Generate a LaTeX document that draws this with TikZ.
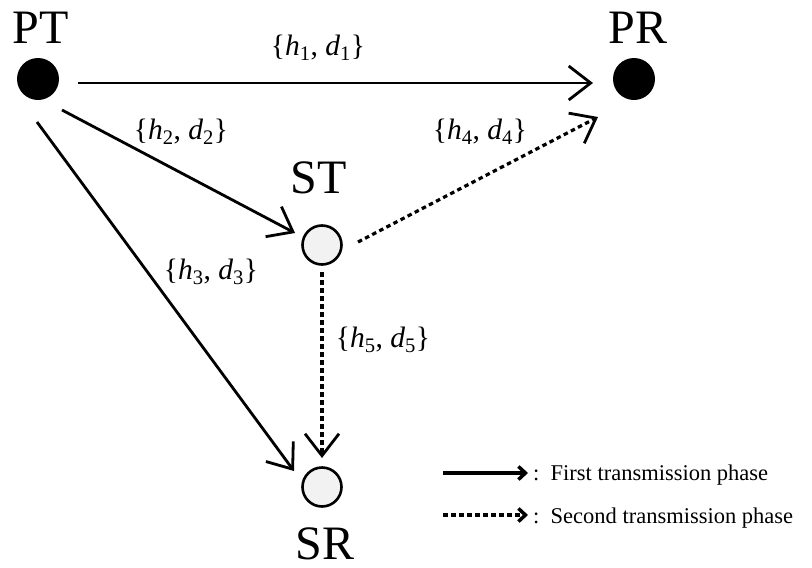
\documentclass[tikz,border=0pt]{standalone}
\usepackage{fontspec}
\setmainfont{Liberation Serif}
\usetikzlibrary{arrows.meta,calc}
\definecolor{hollow}{HTML}{F2F2F2}
\newcommand{\hd}[1]{\{\textit{h}\textsubscript{#1}, \textit{d}\textsubscript{#1}\}}
\begin{document}
\begin{tikzpicture}[x=1pt,y=-1pt,
  primary/.style={circle,fill=black,minimum size=42pt,inner sep=0pt},
  secondary/.style={circle,draw=black,line width=2.6pt,fill=hollow,minimum size=39pt,inner sep=0pt},
  bigname/.style={anchor=base,inner sep=0pt,font=\fontsize{48}{48}\selectfont},
  chan/.style={inner sep=0pt,font=\fontsize{29.5}{30}\selectfont},
  phase1/.style={line width=2.8pt,-{Straight Barb[length=22pt,width=34pt]}},
  phase2/.style={line width=3.2pt,dash pattern=on 4.5pt off 3.5pt,-{Straight Barb[length=22pt,width=34pt,line width=2.8pt]}},
  leg1/.style={line width=3.5pt,-{Straight Barb[length=7pt,width=13pt,line width=3.5pt]}},
  leg2/.style={line width=3.5pt,dash pattern=on 4.5pt off 3.5pt,-{Straight Barb[length=7pt,width=13pt,line width=3.5pt]}},
  legtext/.style={anchor=base west,inner sep=0pt,font=\fontsize{22.5}{24}\selectfont}]
\useasboundingbox (0,0) rectangle (812,568);
% nodes
\node[primary] (PT) at (38,79) {};
\node[primary] (PR) at (634,79) {};
\node[secondary] (ST) at (322,245) {};
\node[secondary] (SR) at (322,487) {};
% names
\node[bigname] (PTn) at (41,43) {PT};
\node[bigname] (PRn) at (638,43) {PR};
\node[bigname] (STn) at (319,193) {ST};
\node[bigname] (SRn) at (325,559) {SR};
% first phase links
\draw[phase1] ($(PT)+(40,4)$) -- ($(PR)+(-41,4)$);
\draw[phase1] ($(PT)+(24,31)$) -- ($(ST)+(-27,-12)$);
\draw[phase1] ($(PT)+(-1,43)$) -- ($(SR)+(-28,-16)$);
% second phase links
\draw[phase2] ($(ST)+(36,-3)$) -- ($(PR)+(-36,38)$);
\draw[phase2] ($(ST)+(0,27)$) -- ($(SR)+(0,-29)$);
% channel labels
\node[chan] (L1) at (318,48) {\hd{1}};
\node[chan] (L2) at (181,132) {\hd{2}};
\node[chan] (L4) at (480,132) {\hd{4}};
\node[chan] (L3) at (211,272) {\hd{3}};
\node[chan] (L5) at (383,340) {\hd{5}};
% legend
\coordinate (A1) at (443,473);
\coordinate (B1) at (528,473);
\coordinate (A2) at (443,515);
\coordinate (B2) at (528,515);
\draw[leg1] (A1) -- (B1);
\draw[leg2] (A2) -- (B2);
\node[legtext] (T1) at (533,480) {:\ \ First transmission phase};
\node[legtext] (T2) at (533,523) {:\ \ Second transmission phase};
\end{tikzpicture}
\end{document}
